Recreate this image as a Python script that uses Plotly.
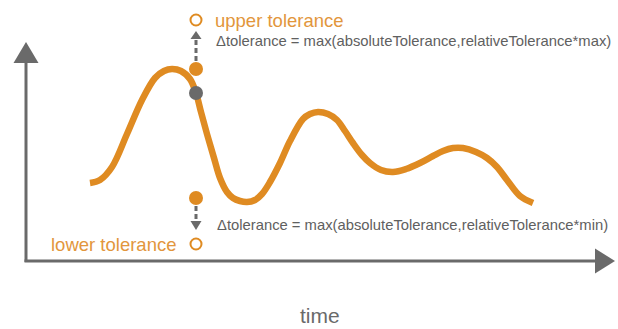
import plotly.graph_objects as go

# Signal trace (time vs. value), origin at the axes corner
time = [64, 74, 86, 101, 116, 129, 138, 146, 155, 164, 170, 175, 181, 188, 194, 201,
        207, 214, 221, 229, 236, 244, 254, 264, 277, 284, 292, 302, 311, 319, 327, 336,
        344, 355, 367, 380, 394, 407, 417, 427, 437, 450, 461, 471, 481, 494, 507]
value = [78, 81, 94, 127, 161, 183, 190, 192, 190, 182, 168, 149, 127, 103, 83, 69,
         63, 60, 59, 61, 67, 79, 98, 120, 142, 147, 149, 147, 141, 130, 118, 106,
         98, 91, 89, 92, 98, 105, 110, 113, 113, 109, 103, 94, 81, 65, 58]

# Tolerance illustration at one sample instant
sample_time = 170
sample_value = 168
delta_upper_value = 192
delta_lower_value = 63
upper_tol_value = 241
lower_tol_value = 17

upper_label = "upper tolerance"
lower_label = "lower tolerance"
upper_formula = "\u0394tolerance = max(absoluteTolerance,relativeTolerance*max)"
lower_formula = "\u0394tolerance = max(absoluteTolerance,relativeTolerance*min)"
x_title = "time"

ORANGE = "#DF8B22"
ORANGE_TXT = "#E2963C"
GREY = "#6A6A6A"
TXT_GREY = "#606060"
FONT = "Liberation Sans, Arial, sans-serif"

fig = go.Figure()

# signal curve
fig.add_trace(go.Scatter(
    x=time, y=value, mode="lines",
    line=dict(color=ORANGE, width=6.5, shape="spline", smoothing=1.0, simplify=False),
    hoverinfo="skip"))

# dashed arrows from the shifted points to the tolerance limits
fig.add_trace(go.Scatter(
    x=[sample_time, sample_time], y=[delta_upper_value + 8, upper_tol_value - 18],
    mode="lines", line=dict(color=GREY, width=3, dash="5px,3px"), hoverinfo="skip"))
fig.add_trace(go.Scatter(
    x=[sample_time, sample_time], y=[delta_lower_value - 8, lower_tol_value + 22],
    mode="lines", line=dict(color=GREY, width=3, dash="5px,3px"), hoverinfo="skip"))

# arrow heads of the dashed arrows
fig.add_trace(go.Scatter(
    x=[sample_time - 5.5, sample_time + 5.5, sample_time, sample_time - 5.5],
    y=[upper_tol_value - 19, upper_tol_value - 19, upper_tol_value - 11, upper_tol_value - 19],
    mode="lines", fill="toself", fillcolor=GREY, line=dict(color=GREY, width=0), hoverinfo="skip"))
fig.add_trace(go.Scatter(
    x=[sample_time - 5.5, sample_time + 5.5, sample_time, sample_time - 5.5],
    y=[lower_tol_value + 23, lower_tol_value + 23, lower_tol_value + 14, lower_tol_value + 23],
    mode="lines", fill="toself", fillcolor=GREY, line=dict(color=GREY, width=0), hoverinfo="skip"))

# filled points: delta-shifted values and the sampled value
fig.add_trace(go.Scatter(
    x=[sample_time, sample_time], y=[delta_upper_value, delta_lower_value],
    mode="markers", marker=dict(size=14, color=ORANGE, line=dict(width=0)), hoverinfo="skip"))
fig.add_trace(go.Scatter(
    x=[sample_time], y=[sample_value],
    mode="markers", marker=dict(size=14, color=GREY, line=dict(width=0)), hoverinfo="skip"))

# hollow points: tolerance limits
fig.add_trace(go.Scatter(
    x=[sample_time, sample_time], y=[upper_tol_value, lower_tol_value],
    mode="markers", marker=dict(size=11, color="white", symbol="circle",
                                line=dict(color=ORANGE, width=2)), hoverinfo="skip"))

# axes with arrow heads
shapes = [
    dict(type="line", x0=0, y0=-1, x1=0, y1=200, line=dict(color=GREY, width=3)),
    dict(type="line", x0=-1.5, y0=0, x1=571, y1=0, line=dict(color=GREY, width=3)),
    dict(type="path", path="M -12.5,198 L 12.5,198 L 0,219 Z",
         fillcolor=GREY, line=dict(width=0)),
    dict(type="path", path="M 569,12.5 L 569,-12.5 L 589,0 Z",
         fillcolor=GREY, line=dict(width=0)),
]

annotations = [
    dict(x=sample_time + 17, y=upper_tol_value, text=upper_label, showarrow=False,
         xanchor="left", yanchor="middle", font=dict(family=FONT, size=18.5, color=ORANGE_TXT)),
    dict(x=sample_time - 18, y=lower_tol_value, text=lower_label, showarrow=False,
         xanchor="right", yanchor="middle", font=dict(family=FONT, size=18.5, color=ORANGE_TXT)),
    dict(x=sample_time + 18, y=220, text=upper_formula, showarrow=False,
         xanchor="left", yanchor="middle", font=dict(family=FONT, size=14.8, color=TXT_GREY)),
    dict(x=sample_time + 19, y=36, text=lower_formula, showarrow=False,
         xanchor="left", yanchor="middle", font=dict(family=FONT, size=14.8, color=TXT_GREY)),
    dict(x=294, y=-54, text=x_title, showarrow=False,
         xanchor="center", yanchor="middle", font=dict(family=FONT, size=21, color=GREY)),
]

fig.update_layout(
    width=618, height=329,
    margin=dict(l=0, r=0, t=0, b=0),
    paper_bgcolor="white", plot_bgcolor="white",
    showlegend=False,
    xaxis=dict(range=[-26, 592], visible=False, fixedrange=True),
    yaxis=dict(range=[-68, 261], visible=False, fixedrange=True),
    shapes=shapes,
    annotations=annotations,
)

fig.write_html("out.html", config={"displayModeBar": False})
